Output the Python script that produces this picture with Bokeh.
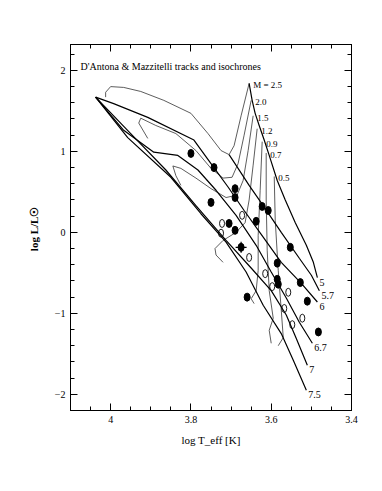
from bokeh.plotting import figure
from bokeh.models import Range1d, LinearAxis, SingleIntervalTicker, ColumnDataSource, CustomJSTickFormatter
from bokeh.core.properties import value
from bokeh.embed import file_html
from bokeh.resources import INLINE

FONT = "Liberation Serif"

# ---- evolutionary tracks (log Teff, log L) ----
track_masses = ["M = 2.5", "2.0", "1.5", "1.2", "0.9", "0.7", "0.5"]
trk_25_T = [3.655, 3.675, 3.6925, 3.705, 3.725, 3.7575, 3.80, 3.8675, 3.925, 3.9675, 4.0, 4.0125, 4.0125]
trk_25_L = [1.84, 1.44, 1.07, 0.96, 1.01, 1.22, 1.47, 1.63, 1.74, 1.79, 1.80, 1.73, 1.67]
trk_20_T = [3.65, 3.6675, 3.6825, 3.6975, 3.72, 3.75, 3.7875, 3.8375, 3.8875, 3.925, 3.93, 3.9075]
trk_20_L = [1.63, 1.20, 0.85, 0.68, 0.67, 0.79, 1.01, 1.22, 1.32, 1.41, 1.35, 1.16]
trk_15_T = [3.645, 3.6575, 3.67, 3.685, 3.7125, 3.75, 3.7875, 3.825, 3.845, 3.8375, 3.825]
trk_15_L = [1.44, 1.01, 0.64, 0.46, 0.43, 0.54, 0.67, 0.79, 0.82, 0.70, 0.58]
trk_12_T = [3.635, 3.645, 3.655, 3.665, 3.6875, 3.72, 3.74, 3.7375, 3.72]
trk_12_L = [1.28, 0.83, 0.40, 0.12, 0.0, -0.10, -0.20, -0.28, -0.37]
trk_09_T = [3.6225, 3.6275, 3.6325, 3.6325, 3.6375, 3.65, 3.6425]
trk_09_L = [1.12, 0.52, -0.04, -0.47, -0.72, -0.82, -0.88]
trk_07_T = [3.6125, 3.6125, 3.61, 3.605, 3.595, 3.605, 3.60]
trk_07_L = [0.98, 0.40, -0.22, -0.72, -1.06, -1.21, -1.37]
trk_05_T = [3.5925, 3.59, 3.5825, 3.575, 3.57, 3.5825]
trk_05_L = [0.69, 0.15, -0.47, -0.96, -1.30, -1.40]

# ---- isochrones (log age) ----
iso_ages = ["5", "5.7", "6", "6.7", "7", "7.5"]
iso_5_T = [3.655, 3.6475, 3.64, 3.63, 3.6175, 3.605, 3.585, 3.565, 3.54, 3.5125, 3.495, 3.485]
iso_5_L = [1.84, 1.63, 1.47, 1.32, 1.14, 0.95, 0.64, 0.40, 0.12, -0.16, -0.37, -0.56]
iso_57_T = [3.705, 3.6825, 3.655, 3.62, 3.575, 3.53, 3.50, 3.48]
iso_57_L = [0.96, 0.79, 0.58, 0.33, 0.0, -0.32, -0.53, -0.72]
iso_6_T = [4.0375, 3.9925, 3.9075, 3.7925, 3.75, 3.7075, 3.6675, 3.62, 3.575, 3.525, 3.485]
iso_6_L = [1.67, 1.59, 1.42, 1.14, 0.85, 0.56, 0.27, -0.06, -0.37, -0.63, -0.86]
iso_67_T = [4.0375, 3.9675, 3.8925, 3.8325, 3.7825, 3.7375, 3.6875, 3.6375, 3.60, 3.5625, 3.53, 3.4975]
iso_67_L = [1.67, 1.26, 0.99, 0.95, 0.77, 0.52, 0.21, -0.16, -0.49, -0.81, -1.11, -1.37]
iso_7_T = [4.0375, 3.95, 3.8625, 3.7875, 3.7125, 3.65, 3.60, 3.5625, 3.5375, 3.51]
iso_7_L = [1.67, 1.22, 0.77, 0.33, -0.10, -0.44, -0.72, -1.02, -1.31, -1.64]
iso_75_T = [4.0375, 3.9575, 3.85, 3.775, 3.7125, 3.6625, 3.62, 3.575, 3.545, 3.5125]
iso_75_L = [1.67, 1.17, 0.68, 0.23, -0.12, -0.49, -0.90, -1.25, -1.58, -1.95]

# ---- observed stars ----
filled_T = [3.80, 3.7425, 3.69, 3.69, 3.75, 3.6225, 3.6075, 3.6375, 3.705, 3.69,
            3.675, 3.5525, 3.585, 3.585, 3.5825, 3.5275, 3.66, 3.51, 3.4825]
filled_L = [0.975, 0.80, 0.54, 0.43, 0.37, 0.32, 0.27, 0.136, 0.11, 0.025,
            -0.185, -0.185, -0.38, -0.58, -0.64, -0.62, -0.80, -0.85, -1.23]
open_T = [3.6725, 3.7225, 3.725, 3.655, 3.615, 3.5975, 3.5575, 3.5675, 3.5225, 3.5475]
open_L = [0.21, 0.11, -0.01, -0.31, -0.51, -0.67, -0.74, -0.94, -1.06, -1.14]
cross_T = [3.675]
cross_L = [-0.185]

tracks = [(trk_25_T, trk_25_L), (trk_20_T, trk_20_L), (trk_15_T, trk_15_L), (trk_12_T, trk_12_L),
          (trk_09_T, trk_09_L), (trk_07_T, trk_07_L), (trk_05_T, trk_05_L)]
isos = [(iso_5_T, iso_5_L), (iso_57_T, iso_57_L), (iso_6_T, iso_6_L), (iso_67_T, iso_67_L),
        (iso_7_T, iso_7_L), (iso_75_T, iso_75_L)]

p = figure(frame_width=281, frame_height=366,
           x_range=Range1d(4.1, 3.4), y_range=Range1d(-2.2, 2.32),
           output_backend="svg", toolbar_location=None,
           x_axis_location=None, y_axis_location=None,
           min_border_left=70, min_border_right=22, min_border_top=44, min_border_bottom=70)
p.xgrid.visible = False
p.ygrid.visible = False
p.outline_line_color = "black"
p.outline_line_width = 1
p.background_fill_color = "white"
p.border_fill_color = "white"

def make_axis(kind, show_labels, label=""):
    if kind == "x":
        ax = LinearAxis(ticker=SingleIntervalTicker(interval=0.2, num_minor_ticks=4))
        if show_labels:
            ax.major_label_overrides = {4: "4", 3.8: "3.8", 3.6: "3.6", 3.4: "3.4"}
    else:
        ax = LinearAxis(ticker=SingleIntervalTicker(interval=1, num_minor_ticks=5))
    ax.major_tick_in = 7
    ax.major_tick_out = 0
    ax.minor_tick_in = 4
    ax.minor_tick_out = 0
    ax.axis_line_color = "black"
    ax.major_tick_line_color = "black"
    ax.minor_tick_line_color = "black"
    ax.major_label_text_font = FONT
    ax.major_label_text_font_size = "10px"
    ax.major_label_text_color = "black"
    ax.major_label_standoff = 5
    if not show_labels:
        ax.formatter = CustomJSTickFormatter(code="return '';")
    if label:
        ax.axis_label = label
        ax.axis_label_text_font = FONT
        ax.axis_label_text_font_size = "11px"
        ax.axis_label_text_font_style = "normal"
        ax.axis_label_text_color = "black"
    return ax

xb = make_axis("x", True, "log T_eff [K]")
xb.axis_label_standoff = 8
yl = make_axis("y", True, "log  L/L\u2609")
yl.axis_label_text_font_style = "bold"
yl.axis_label_standoff = 12
yl.major_label_orientation = "horizontal"
p.add_layout(xb, "below")
p.add_layout(yl, "left")
p.add_layout(make_axis("x", False), "above")
p.add_layout(make_axis("y", False), "right")

for T, L in tracks:
    p.line(T, L, line_color="#333333", line_width=0.8)
for T, L in isos:
    p.line(T, L, line_color="black", line_width=1.2)

p.ellipse(filled_T, filled_L, width=6, height=8, width_units="screen", height_units="screen",
          fill_color="black", line_color="black")
p.ellipse(open_T, open_L, width=5, height=8, width_units="screen", height_units="screen",
          fill_color=None, line_color="black", line_width=0.9)
p.scatter(cross_T, cross_L, marker="cross", size=11, line_color="black", line_width=1.2)

# labels
lab_src = ColumnDataSource(dict(x=[t[0][0] for t in tracks], y=[t[1][0] for t in tracks], text=track_masses))
p.text("x", "y", text="text", source=lab_src, x_offset=4, y_offset=2,
       text_font=value(FONT), text_font_size="9px", text_baseline="middle", text_align="left")
iso_src = ColumnDataSource(dict(x=[t[0][-1] for t in isos], y=[t[1][-1] for t in isos], text=iso_ages))
p.text("x", "y", text="text", source=iso_src, x_offset=2, y_offset=1,
       text_font=value(FONT), text_font_size="10px", text_baseline="top", text_align="left")

title_src = ColumnDataSource(dict(x=[4.075], y=[2.05], text=["D'Antona & Mazzitelli tracks and isochrones"]))
p.text("x", "y", text="text", source=title_src, text_font=value(FONT), text_font_size="10px",
       text_baseline="middle", text_align="left")

open("out.html", "w").write(file_html(p, INLINE))
